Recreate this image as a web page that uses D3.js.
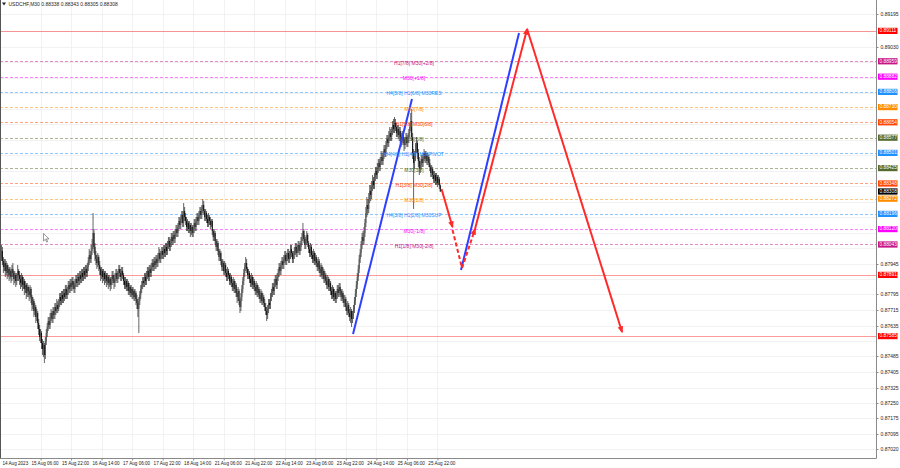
<!DOCTYPE html>
<html><head><meta charset="utf-8">
<script src="https://cdn.jsdelivr.net/npm/d3@7"></script>
<style>body{margin:0;background:#fff}svg{display:block}</style>
</head><body><svg id="c" width="900" height="468"></svg>
<script>
// ---------- DATA ----------
const symbolTitle = "USDCHF,M30  0.88338 0.88343 0.88305 0.88308";
const firstOpen = 0.8797;
const closeP = [
0.8798,0.8801,0.8796,0.8793,0.8795,0.8791,0.8794,0.8790,0.8792,0.8789,
0.8791,0.8788,0.8792,0.8790,0.8787,0.8789,0.8786,0.8788,0.8791,0.8789,
0.8787,0.8785,0.8788,0.8784,0.8786,0.8782,0.8784,0.8780,0.8783,0.8781,
0.8779,0.8782,0.8778,0.8774,0.8776,0.8771,0.8773,0.8768,0.8770,0.8765,
0.8762,0.8758,0.8760,0.8755,0.8752,0.8754,0.8749,0.8756,0.8760,0.8763,
0.8766,0.8764,0.8768,0.8770,0.8767,0.8771,0.8769,0.8773,0.8771,0.8774,
0.8772,0.8775,0.8778,0.8776,0.8779,0.8777,0.8780,0.8778,0.8782,0.8779,
0.8781,0.8784,0.8782,0.8785,0.8783,0.8786,0.8784,0.8782,0.8785,0.8787,
0.8785,0.8788,0.8786,0.8789,0.8787,0.8790,0.8788,0.8791,0.8789,0.8792,
0.8790,0.8793,0.8796,0.8799,0.8797,0.8801,0.8804,0.8810,0.8803,0.8799,
0.8797,0.8795,0.8798,0.8794,0.8792,0.8789,0.8791,0.8788,0.8790,0.8787,
0.8789,0.8786,0.8788,0.8785,0.8787,0.8784,0.8786,0.8789,0.8787,0.8785,
0.8788,0.8790,0.8787,0.8789,0.8792,0.8790,0.8788,0.8791,0.8789,0.8786,
0.8784,0.8786,0.8783,0.8785,0.8781,0.8783,0.8780,0.8782,0.8779,0.8781,
0.8778,0.8780,0.8777,0.8775,0.8772,0.8776,0.8779,0.8782,0.8784,0.8786,
0.8785,0.8788,0.8786,0.8789,0.8791,0.8788,0.8792,0.8790,0.8793,0.8795,
0.8793,0.8796,0.8794,0.8797,0.8795,0.8798,0.8800,0.8797,0.8799,0.8801,
0.8799,0.8802,0.8800,0.8803,0.8801,0.8804,0.8806,0.8803,0.8805,0.8808,
0.8806,0.8809,0.8807,0.8810,0.8812,0.8810,0.8813,0.8816,0.8814,0.8817,
0.8819,0.8815,0.8821,0.8818,0.8816,0.8813,0.8815,0.8812,0.8814,0.8811,
0.8813,0.8810,0.8812,0.8815,0.8813,0.8816,0.8818,0.8816,0.8819,0.8821,
0.8819,0.8822,0.8824,0.8821,0.8818,0.8820,0.8817,0.8815,0.8818,0.8816,
0.8814,0.8816,0.8811,0.8808,0.8810,0.8806,0.8803,0.8805,0.8801,0.8798,
0.8800,0.8796,0.8793,0.8795,0.8791,0.8794,0.8790,0.8788,0.8791,0.8789,
0.8786,0.8788,0.8785,0.8783,0.8786,0.8782,0.8784,0.8780,0.8778,0.8781,
0.8776,0.8773,0.8778,0.8782,0.8786,0.8790,0.8793,0.8795,0.8792,0.8789,
0.8790,0.8787,0.8785,0.8788,0.8784,0.8786,0.8783,0.8781,0.8784,0.8780,
0.8782,0.8779,0.8777,0.8780,0.8776,0.8778,0.8775,0.8773,0.8771,0.8769,
0.8772,0.8775,0.8774,0.8778,0.8780,0.8783,0.8781,0.8785,0.8787,0.8784,
0.8788,0.8790,0.8793,0.8791,0.8794,0.8796,0.8794,0.8797,0.8799,0.8796,
0.8798,0.8800,0.8797,0.8799,0.8802,0.8800,0.8797,0.8799,0.8801,0.8803,
0.8800,0.8802,0.8804,0.8801,0.8803,0.8806,0.8808,0.8811,0.8807,0.8804,
0.8806,0.8809,0.8805,0.8802,0.8800,0.8803,0.8799,0.8797,0.8800,0.8796,
0.8798,0.8795,0.8793,0.8796,0.8792,0.8790,0.8793,0.8789,0.8791,0.8787,
0.8789,0.8786,0.8784,0.8787,0.8783,0.8785,0.8781,0.8779,0.8782,0.8778,
0.8780,0.8777,0.8779,0.8782,0.8780,0.8783,0.8781,0.8778,0.8780,0.8777,
0.8775,0.8777,0.8773,0.8771,0.8774,0.8770,0.8768,0.8771,0.8767,0.8769,
0.8772,0.8776,0.8780,0.8784,0.8788,0.8792,0.8797,0.8800,0.8804,0.8808,
0.8806,0.8810,0.8815,0.8820,0.8824,0.8822,0.8827,0.8831,0.8829,0.8833,
0.8836,0.8834,0.8838,0.8841,0.8839,0.8842,0.8845,0.8843,0.8846,0.8848,
0.8846,0.8849,0.8852,0.8850,0.8854,0.8857,0.8855,0.8858,0.8860,0.8858,
0.8861,0.8864,0.8862,0.8865,0.8863,0.8860,0.8862,0.8859,0.8861,0.8858,
0.8856,0.8859,0.8857,0.8854,0.8856,0.8858,0.8855,0.8857,0.8860,0.8863,
0.8866,0.8858,0.8850,0.8845,0.8848,0.8852,0.8855,0.8850,0.8846,0.8842,
0.8844,0.8847,0.8845,0.8848,0.8850,0.8847,0.8849,0.8846,0.8848,0.8845,
0.8843,0.8840,0.8842,0.8839,0.8837,0.8839,0.8836,0.8838,0.8835,0.8837,
0.88338,0.88308];
const highP = [
0.8801,0.8804,0.8803,0.8798,0.8797,0.8797,0.8796,0.8795,0.8794,0.8793,
0.8793,0.8792,0.8794,0.8795,0.8791,0.8791,0.8790,0.8790,0.8794,0.8792,
0.8791,0.8789,0.8790,0.8789,0.8788,0.8787,0.8786,0.8785,0.8785,0.8784,
0.8783,0.8784,0.8783,0.8779,0.8778,0.8777,0.8775,0.8774,0.8772,0.8771,
0.8767,0.8764,0.8762,0.8761,0.8757,0.8756,0.8755,0.8758,0.8762,0.8765,
0.8768,0.8768,0.8770,0.8772,0.8771,0.8773,0.8773,0.8775,0.8775,0.8777,
0.8776,0.8777,0.8780,0.8780,0.8781,0.8781,0.8782,0.8782,0.8784,0.8784,
0.8783,0.8786,0.8786,0.8787,0.8787,0.8788,0.8788,0.8786,0.8787,0.8789,
0.8789,0.8790,0.8790,0.8791,0.8791,0.8792,0.8792,0.8793,0.8793,0.8794,
0.8794,0.8795,0.8798,0.8802,0.8801,0.8804,0.8807,0.8820,0.8812,0.8805,
0.8801,0.8799,0.8800,0.8799,0.8796,0.8793,0.8793,0.8792,0.8792,0.8791,
0.8791,0.8790,0.8790,0.8789,0.8789,0.8788,0.8788,0.8791,0.8791,0.8789,
0.8790,0.8792,0.8792,0.8791,0.8794,0.8794,0.8792,0.8793,0.8793,0.8790,
0.8788,0.8788,0.8787,0.8787,0.8786,0.8785,0.8784,0.8784,0.8783,0.8783,
0.8782,0.8782,0.8781,0.8779,0.8777,0.8778,0.8781,0.8784,0.8786,0.8788,
0.8788,0.8790,0.8790,0.8791,0.8793,0.8793,0.8794,0.8794,0.8795,0.8797,
0.8797,0.8798,0.8798,0.8799,0.8799,0.8800,0.8803,0.8802,0.8801,0.8803,
0.8803,0.8804,0.8804,0.8805,0.8805,0.8806,0.8808,0.8808,0.8807,0.8810,
0.8810,0.8811,0.8811,0.8812,0.8814,0.8814,0.8815,0.8818,0.8818,0.8819,
0.8821,0.8821,0.8825,0.8823,0.8820,0.8818,0.8817,0.8816,0.8816,0.8815,
0.8815,0.8814,0.8814,0.8817,0.8817,0.8818,0.8820,0.8820,0.8821,0.8823,
0.8823,0.8824,0.8827,0.8826,0.8822,0.8822,0.8821,0.8819,0.8820,0.8819,
0.8818,0.8817,0.8817,0.8812,0.8812,0.8811,0.8807,0.8807,0.8806,0.8802,
0.8802,0.8801,0.8797,0.8797,0.8796,0.8796,0.8795,0.8792,0.8793,0.8792,
0.8790,0.8790,0.8789,0.8787,0.8788,0.8787,0.8786,0.8785,0.8782,0.8783,
0.8782,0.8777,0.8780,0.8784,0.8788,0.8792,0.8795,0.8798,0.8797,0.8793,
0.8792,0.8791,0.8789,0.8790,0.8789,0.8788,0.8787,0.8785,0.8786,0.8785,
0.8784,0.8783,0.8781,0.8782,0.8781,0.8780,0.8779,0.8777,0.8775,0.8773,
0.8774,0.8777,0.8777,0.8780,0.8782,0.8785,0.8785,0.8787,0.8789,0.8789,
0.8790,0.8792,0.8795,0.8795,0.8796,0.8798,0.8798,0.8799,0.8801,0.8801,
0.8800,0.8802,0.8802,0.8801,0.8804,0.8804,0.8801,0.8801,0.8803,0.8805,
0.8805,0.8804,0.8806,0.8806,0.8805,0.8808,0.8810,0.8815,0.8812,0.8809,
0.8808,0.8811,0.8810,0.8806,0.8804,0.8805,0.8804,0.8801,0.8802,0.8801,
0.8800,0.8799,0.8797,0.8798,0.8797,0.8794,0.8795,0.8794,0.8793,0.8792,
0.8791,0.8790,0.8788,0.8789,0.8788,0.8787,0.8786,0.8783,0.8784,0.8783,
0.8782,0.8781,0.8781,0.8784,0.8784,0.8785,0.8785,0.8782,0.8782,0.8781,
0.8779,0.8779,0.8778,0.8775,0.8776,0.8775,0.8772,0.8773,0.8772,0.8771,
0.8774,0.8778,0.8782,0.8786,0.8790,0.8794,0.8799,0.8802,0.8806,0.8810,
0.8811,0.8813,0.8817,0.8823,0.8828,0.8827,0.8830,0.8834,0.8834,0.8836,
0.8839,0.8838,0.8840,0.8843,0.8843,0.8845,0.8847,0.8847,0.8848,0.8851,
0.8850,0.8851,0.8854,0.8854,0.8856,0.8859,0.8859,0.8861,0.8863,0.8862,
0.8863,0.8866,0.8867,0.8868,0.8867,0.8865,0.8864,0.8864,0.8863,0.8863,
0.8860,0.8861,0.8861,0.8858,0.8858,0.8860,0.8860,0.8859,0.8862,0.8865,
0.8870,0.8872,0.8860,0.8852,0.8851,0.8855,0.8858,0.8856,0.8852,0.8848,
0.8846,0.8849,0.8849,0.8850,0.8852,0.8851,0.8851,0.8850,0.8850,0.8849,
0.8847,0.8844,0.8844,0.8843,0.8841,0.8841,0.8840,0.8840,0.8839,0.8839,
0.8838,0.88343];
const lowP = [
0.8795,0.8796,0.8794,0.8790,0.8791,0.8788,0.8789,0.8787,0.8788,0.8786,
0.8787,0.8785,0.8786,0.8788,0.8784,0.8785,0.8783,0.8784,0.8786,0.8786,
0.8784,0.8782,0.8783,0.8781,0.8782,0.8779,0.8780,0.8777,0.8778,0.8778,
0.8776,0.8777,0.8775,0.8771,0.8772,0.8768,0.8769,0.8765,0.8766,0.8762,
0.8759,0.8756,0.8755,0.8752,0.8749,0.8748,0.8745,0.8747,0.8754,0.8758,
0.8761,0.8762,0.8762,0.8766,0.8765,0.8765,0.8767,0.8767,0.8769,0.8770,
0.8770,0.8771,0.8773,0.8774,0.8774,0.8775,0.8775,0.8776,0.8777,0.8777,
0.8777,0.8779,0.8780,0.8780,0.8781,0.8781,0.8782,0.8780,0.8780,0.8783,
0.8783,0.8783,0.8784,0.8784,0.8785,0.8785,0.8786,0.8786,0.8787,0.8787,
0.8788,0.8788,0.8791,0.8794,0.8795,0.8795,0.8799,0.8802,0.8800,0.8796,
0.8794,0.8792,0.8793,0.8791,0.8789,0.8786,0.8787,0.8785,0.8786,0.8784,
0.8785,0.8783,0.8784,0.8782,0.8783,0.8781,0.8782,0.8784,0.8785,0.8782,
0.8783,0.8786,0.8785,0.8785,0.8787,0.8788,0.8786,0.8786,0.8787,0.8784,
0.8782,0.8782,0.8781,0.8781,0.8779,0.8779,0.8778,0.8778,0.8777,0.8777,
0.8776,0.8776,0.8774,0.8772,0.8768,0.8760,0.8774,0.8777,0.8780,0.8782,
0.8783,0.8783,0.8784,0.8784,0.8787,0.8786,0.8786,0.8788,0.8788,0.8791,
0.8791,0.8791,0.8792,0.8792,0.8793,0.8793,0.8796,0.8795,0.8795,0.8797,
0.8797,0.8797,0.8798,0.8798,0.8799,0.8799,0.8802,0.8801,0.8801,0.8803,
0.8804,0.8804,0.8805,0.8805,0.8808,0.8808,0.8808,0.8811,0.8812,0.8812,
0.8815,0.8813,0.8813,0.8816,0.8814,0.8811,0.8811,0.8810,0.8810,0.8808,
0.8809,0.8808,0.8808,0.8810,0.8811,0.8811,0.8814,0.8814,0.8814,0.8817,
0.8817,0.8817,0.8820,0.8819,0.8816,0.8816,0.8815,0.8813,0.8813,0.8814,
0.8812,0.8813,0.8809,0.8806,0.8806,0.8804,0.8801,0.8801,0.8799,0.8796,
0.8796,0.8794,0.8791,0.8791,0.8789,0.8789,0.8788,0.8786,0.8786,0.8787,
0.8784,0.8784,0.8783,0.8781,0.8781,0.8780,0.8780,0.8778,0.8775,0.8776,
0.8774,0.8770,0.8771,0.8776,0.8780,0.8784,0.8788,0.8791,0.8790,0.8787,
0.8787,0.8785,0.8783,0.8783,0.8782,0.8782,0.8781,0.8779,0.8779,0.8778,
0.8778,0.8777,0.8775,0.8775,0.8774,0.8774,0.8773,0.8771,0.8769,0.8766,
0.8767,0.8770,0.8772,0.8772,0.8776,0.8778,0.8779,0.8779,0.8783,0.8782,
0.8782,0.8786,0.8788,0.8789,0.8789,0.8792,0.8792,0.8792,0.8795,0.8794,
0.8794,0.8796,0.8795,0.8795,0.8797,0.8798,0.8795,0.8795,0.8797,0.8799,
0.8798,0.8798,0.8800,0.8799,0.8799,0.8801,0.8804,0.8806,0.8805,0.8802,
0.8802,0.8804,0.8803,0.8800,0.8798,0.8798,0.8797,0.8795,0.8795,0.8794,
0.8794,0.8793,0.8791,0.8791,0.8790,0.8788,0.8788,0.8787,0.8787,0.8785,
0.8785,0.8784,0.8782,0.8782,0.8781,0.8781,0.8779,0.8777,0.8777,0.8776,
0.8776,0.8775,0.8775,0.8777,0.8778,0.8778,0.8779,0.8776,0.8776,0.8775,
0.8773,0.8773,0.8771,0.8769,0.8769,0.8768,0.8766,0.8765,0.8763,0.8765,
0.8767,0.8770,0.8774,0.8778,0.8782,0.8786,0.8790,0.8795,0.8798,0.8802,
0.8804,0.8804,0.8808,0.8813,0.8818,0.8819,0.8820,0.8825,0.8826,0.8827,
0.8831,0.8832,0.8832,0.8836,0.8837,0.8837,0.8840,0.8841,0.8841,0.8844,
0.8844,0.8844,0.8847,0.8848,0.8848,0.8852,0.8853,0.8853,0.8856,0.8856,
0.8856,0.8859,0.8860,0.8860,0.8861,0.8858,0.8858,0.8857,0.8856,0.8855,
0.8853,0.8854,0.8855,0.8851,0.8852,0.8854,0.8853,0.8853,0.8855,0.8858,
0.8861,0.8856,0.8847,0.8822,0.8842,0.8846,0.8850,0.8847,0.8843,0.8839,
0.8840,0.8842,0.8843,0.8843,0.8846,0.8845,0.8845,0.8844,0.8844,0.8843,
0.8841,0.8838,0.8838,0.8837,0.8835,0.8835,0.8834,0.8834,0.8833,0.8834,
0.8832,0.88305];

const timeTickLabels = ["14 Aug 2023","15 Aug 06:00","15 Aug 22:00","16 Aug 14:00","17 Aug 06:00","17 Aug 22:00","18 Aug 14:00","21 Aug 06:00","21 Aug 22:00","22 Aug 14:00","23 Aug 06:00","23 Aug 22:00","24 Aug 14:00","25 Aug 06:00","25 Aug 22:00"];
const timeTickBars = [2,42,74,106,138,170,202,234,266,298,330,362,394,426,458];

const priceTicks = [0.87020,0.87095,0.87175,0.87250,0.87325,0.87405,0.87485,0.87560,0.87635,0.87715,0.87795,0.87870,0.87945,0.88025,0.88100,0.88180,0.88255,0.88335,0.88410,0.88490,0.88565,0.88645,0.88720,0.88800,0.88875,0.88955,0.89030,0.89110,0.89195];

const levelPrices = [0.89111,0.88959,0.88882,0.88806,0.88730,0.88654,0.88577,0.88501,0.88425,0.88348,0.88272,0.88196,0.88120,0.88043,0.87891,0.87585];
const levelNames = ["","H1[7/8] M30[+2/8]","M30[+1/8]","H4[5/8] H1[6/8] M30RES","M30[7/8]","H1[5/8] M30[6/8]","M30[5/8]","H4[4/8] H1[4/8] M30PIVOT","M30[3/8]","H1[3/8] M30[2/8]","M30[1/8]","H4[3/8] H1[2/8] M30SUP","M30[-1/8]","H1[1/8] M30[-2/8]","",""];
const levelColors = ["#ff2020","#c71585","#ff00ff","#1e90ff","#ff8c00","#ff4500","#556b2f","#1e90ff","#556b2f","#ff4500","#ff8c00","#1e90ff","#ff00ff","#c71585","#ff2020","#ff2020"];
const levelDashed = [false,true,true,true,true,true,true,true,true,true,true,true,true,true,false,false];
const lastPrice = 0.88308;

// drawn wave / projection segments: bar index, price
const waveBars = [369.5, 431.3], wavePrices = [0.87595, 0.88770];
const projBlueBars = [482.7, 543.5], projBluePrices = [0.87915, 0.89100];
const projRed1Bars = [462.3, 473.8], projRed1Prices = [0.88320, 0.88130];
const projRedDashDownBars = [473.8, 483.8], projRedDashDownPrices = [0.88115, 0.87925];
const projRedDashUpBars = [483.8, 497.4], projRedDashUpPrices = [0.87925, 0.88120];
const projRedUpBars = [497.4, 552.0], projRedUpPrices = [0.88120, 0.89120];
const projRedDownBars = [552.0, 651.5], projRedDownPrices = [0.89120, 0.87605];

// ---------- DRAW ----------
const W = 900, H = 468, plotR = 876.5, plotB = 458.5;
const FONT = "'Liberation Sans', Arial, sans-serif";
const svg = d3.select("#c");
const x = d3.scaleLinear().domain([0, 461]).range([0.5, 440.3]);
const y = d3.scaleLinear().domain([0.87020, 0.89195]).range([449, 14]);

svg.append("rect").attr("width", W).attr("height", H).attr("fill", "#fff");

const defs = svg.append("defs");
defs.append("clipPath").attr("id", "plot").append("rect").attr("x", 0).attr("y", 0).attr("width", plotR).attr("height", plotB);
["red", "blue"].forEach(n => {
  defs.append("marker").attr("id", "ah-" + n).attr("viewBox", "0 0 10 10")
    .attr("refX", 8).attr("refY", 5).attr("markerUnits", "userSpaceOnUse")
    .attr("markerWidth", 7).attr("markerHeight", 7).attr("orient", "auto")
    .append("path").attr("d", "M0,1 L10,5 L0,9 Z").attr("fill", n === "red" ? "#ff2a2a" : "#2f3fff");
});

// boxes on the price scale (levels + last price)
const boxData = levelPrices.map((p, k) => ({ p, c: levelColors[k] === "#ff2020" ? "#ff0000" : levelColors[k] }))
  .concat([{ p: lastPrice, c: "#000000" }]);
// price ticks that stay visible (not hidden behind a box)
const visibleTicks = priceTicks.filter(t => boxData.every(b => Math.abs(y(t) - y(b.p)) > 5.5));

// grid
const grid = svg.append("g").attr("stroke", "#ededed").attr("stroke-width", 0.7);
grid.selectAll("line.h").data(priceTicks).join("line").attr("class", "h")
  .attr("x1", 0).attr("x2", plotR).attr("y1", d => Math.round(y(d)) + 0.5).attr("y2", d => Math.round(y(d)) + 0.5);
grid.selectAll("line.v").data(timeTickBars.slice(1)).join("line").attr("class", "v")
  .attr("y1", 0).attr("y2", plotB).attr("x1", d => Math.round(x(d)) + 0.5).attr("x2", d => Math.round(x(d)) + 0.5);

const plot = svg.append("g").attr("clip-path", "url(#plot)");

// level lines
plot.selectAll("line.lvl").data(levelPrices).join("line").attr("class", "lvl")
  .attr("x1", 0).attr("x2", plotR)
  .attr("y1", d => Math.round(y(d)) + 0.5).attr("y2", d => Math.round(y(d)) + 0.5)
  .attr("stroke", (d, k) => levelColors[k])
  .attr("stroke-opacity", (d, k) => levelDashed[k] ? 0.5 : 0.45)
  .attr("stroke-width", 1)
  .attr("stroke-dasharray", (d, k) => levelDashed[k] ? "3,2" : null);

// candles
const bars = closeP.map((c, i) => {
  const o = i === 0 ? firstOpen : closeP[i - 1];
  return { i, o, c, h: Math.max(highP[i], o, c), l: Math.min(lowP[i], o, c) };
});
const cg = plot.append("g");
cg.selectAll("line.w").data(bars).join("line").attr("class", "w")
  .attr("x1", d => x(d.i)).attr("x2", d => x(d.i))
  .attr("y1", d => y(d.h)).attr("y2", d => y(d.l))
  .attr("stroke", "#222").attr("stroke-width", 0.7);
cg.selectAll("rect.b").data(bars).join("rect").attr("class", "b")
  .attr("x", d => x(d.i) - 0.5).attr("width", 1.0)
  .attr("y", d => y(Math.max(d.o, d.c)))
  .attr("height", d => Math.max(0.5, Math.abs(y(d.o) - y(d.c))))
  .attr("fill", d => d.c >= d.o ? "#555" : "#111");

// wave & projections
const lineGen = d3.line().x(d => x(d[0])).y(d => y(d[1]));
function seg(bs, ps, color, dashed, arrow) {
  const pts = bs.map((b, k) => [b, ps[k]]);
  const p = plot.append("path").attr("d", lineGen(pts)).attr("fill", "none")
    .attr("stroke", color).attr("stroke-width", 2).attr("stroke-linecap", "butt");
  if (dashed) p.attr("stroke-dasharray", "4,2.5");
  if (arrow) p.attr("marker-end", "url(#ah-" + arrow + ")");
}
seg(waveBars, wavePrices, "#2f3fff", false, null);
seg(projBlueBars, projBluePrices, "#2f3fff", false, null);
seg(projRed1Bars, projRed1Prices, "#ff2a2a", false, "red");
seg(projRedDashDownBars, projRedDashDownPrices, "#ff2a2a", true, null);
seg(projRedDashUpBars, projRedDashUpPrices, "#ff2a2a", true, "red");
seg(projRedUpBars, projRedUpPrices, "#ff2a2a", false, "red");
seg(projRedDownBars, projRedDownPrices, "#ff2a2a", false, "red");

// level labels
plot.selectAll("text.ll").data(levelPrices.map((p, k) => ({ p, k })).filter(d => levelNames[d.k]))
  .join("text").attr("class", "ll")
  .attr("x", 414).attr("y", d => y(d.p) + 2.2)
  .attr("text-anchor", "middle").attr("dominant-baseline", "middle")
  .attr("font-family", FONT).attr("font-size", 5).attr("fill", d => levelColors[d.k])
  .text(d => levelNames[d.k]);

// mouse cursor
svg.append("path").attr("d", "M43.5,233.5 l0,7.5 l1.8,-1.7 l1.3,2.8 l1.1,-0.5 l-1.3,-2.7 l2.6,0 z")
  .attr("fill", "#fff").attr("stroke", "#333").attr("stroke-width", 0.5);

// frame
const fr = svg.append("g").attr("stroke", "#8a8a8a").attr("stroke-width", 1).attr("fill", "none");
fr.append("line").attr("x1", 0.5).attr("x2", 0.5).attr("y1", 0).attr("y2", plotB).attr("stroke", "#555");
fr.append("line").attr("x1", 0).attr("x2", plotR).attr("y1", plotB).attr("y2", plotB);
fr.append("line").attr("x1", plotR).attr("x2", plotR).attr("y1", 0).attr("y2", plotB);

// price axis
const pAxis = d3.axisRight(y).tickValues(visibleTicks).tickSize(2).tickFormat(d3.format(".5f"));
const pg = svg.append("g").attr("transform", `translate(${plotR},0)`).call(pAxis);
pg.select(".domain").remove();
pg.selectAll("line").attr("stroke", "#8a8a8a");
pg.selectAll("text").attr("x", 4).attr("font-family", FONT).attr("font-size", 5).attr("fill", "#222");

// time axis (label text starts a little left of its bar, MT4 style)
const tAxis = d3.axisBottom(x).tickValues(timeTickBars).tickSize(2).tickFormat((d, k) => timeTickLabels[k]);
const tg = svg.append("g").attr("transform", `translate(0,${plotB})`).call(tAxis);
tg.select(".domain").remove();
tg.selectAll("line").attr("stroke", "#8a8a8a");
tg.selectAll("text").attr("y", 3.5).attr("text-anchor", "start").attr("x", -9.6)
  .attr("font-family", FONT).attr("font-size", 4.6).attr("fill", "#222");
tg.selectAll(".tick").filter((d, k) => k === 0).select("text").attr("x", -0.5);
tg.selectAll(".tick").filter((d, k) => k === 0).select("line").remove();

// price boxes
const bx = svg.append("g");
bx.selectAll("rect").data(boxData).join("rect")
  .attr("x", plotR + 1.5).attr("width", 19.5).attr("y", d => y(d.p) - 3).attr("height", 6.2)
  .attr("fill", d => d.c);
bx.selectAll("text").data(boxData).join("text")
  .attr("x", plotR + 3).attr("y", d => y(d.p) + 0.2).attr("dominant-baseline", "middle")
  .attr("font-family", FONT).attr("font-size", 4.8).attr("fill", "#fff")
  .text(d => d3.format(".5f")(d.p));

// title
svg.append("path").attr("d", "M2,2.5 L6,2.5 L4,5.5 Z").attr("fill", "#222");
svg.append("text").attr("x", 8.5).attr("y", 4.3).attr("dominant-baseline", "middle")
  .attr("font-family", FONT).attr("font-size", 5).attr("fill", "#222").text(symbolTitle);
</script>
</body></html>
